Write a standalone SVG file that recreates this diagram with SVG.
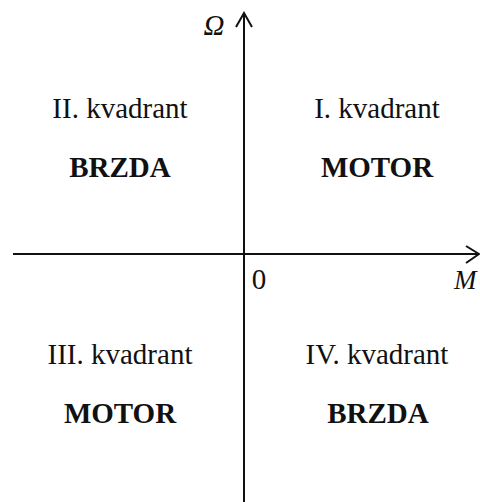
<svg xmlns="http://www.w3.org/2000/svg" width="480" height="502" viewBox="0 0 480 502">
<style>
.t{font-family:"Liberation Serif","Times New Roman",serif;font-size:29px;fill:#111;text-anchor:middle}
.b{font-weight:bold}
.i{font-style:italic}
.ax{stroke:#111;stroke-width:2;fill:none}
</style>
<rect width="480" height="502" fill="#fff"/>
<g id="axes">
<line class="ax" x1="244" y1="14" x2="244" y2="502"/>
<polyline class="ax" points="236,27 244,13 252,27"/>
<line class="ax" x1="13" y1="254" x2="478" y2="254"/>
<polyline class="ax" points="466,246 479,254 466,263"/>
</g>
<g id="axis-labels">
<text class="t i" x="214" y="35">Ω</text>
<text class="t" x="259" y="289">0</text>
<text class="t i" x="454" y="289" style="text-anchor:start;font-size:27px">M</text>
</g>
<g id="q2">
<text class="t" x="120" y="118">II. kvadrant</text>
<text class="t b" x="120" y="177">BRZDA</text>
</g>
<g id="q1">
<text class="t" x="377" y="118">I. kvadrant</text>
<text class="t b" x="377" y="177">MOTOR</text>
</g>
<g id="q3">
<text class="t" x="120" y="364">III. kvadrant</text>
<text class="t b" x="120" y="423">MOTOR</text>
</g>
<g id="q4">
<text class="t" x="377" y="364">IV. kvadrant</text>
<text class="t b" x="378" y="423">BRZDA</text>
</g>
</svg>
